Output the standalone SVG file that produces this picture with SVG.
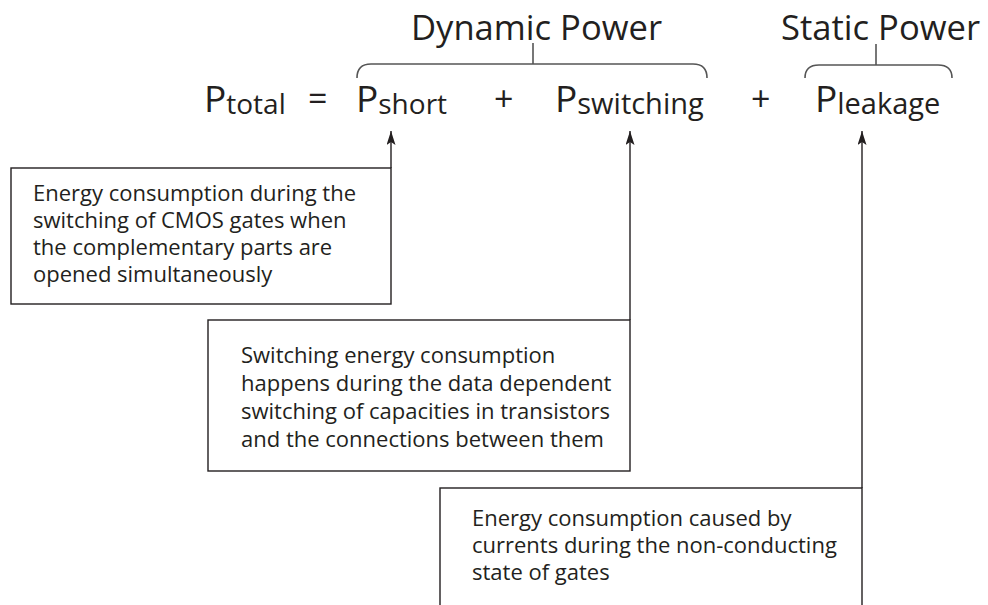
<svg xmlns="http://www.w3.org/2000/svg" width="988" height="605" viewBox="0 0 988 605">
  <style>
    text { font-family: "Open Sans", "Noto Sans", "DejaVu Sans", sans-serif; fill: #231f20; }
    .head { font-size: 34.6px; }
    .sym { font-size: 37px; }
    .sub { font-size: 28px; }
    .sub-wide { font-size: 29px; }
    .op { font-size: 34px; }
    .desc { font-size: 22px; }
    .box { fill: #ffffff; stroke: #231f20; stroke-width: 1.4; }
    .brace { fill: none; stroke: #555555; stroke-width: 1.6; }
    .link { fill: none; stroke: #231f20; stroke-width: 1.4; }
  </style>
  <defs>
    <marker id="arrow" markerUnits="userSpaceOnUse" markerWidth="16" markerHeight="10" refX="14" refY="4.5" orient="auto">
      <path d="M0,0 L14,4.5 L0,9 L3,4.5 z" fill="#231f20"/>
    </marker>
  </defs>

  <rect width="988" height="605" fill="#ffffff"/>

  <!-- group labels with their braces -->
  <g id="dynamic-power">
    <text class="head" x="411" y="40">Dynamic Power</text>
    <path class="brace" d="M357,78 Q357,64 371,64 L693,64 Q707,64 707,78"/>
    <path class="brace" d="M533,43 L533,64"/>
  </g>
  <g id="static-power">
    <text class="head" x="781" y="40">Static Power</text>
    <path class="brace" d="M805,78 Q805,65 819,65 L938,65 Q952,65 952,78"/>
    <path class="brace" d="M876,44 L876,65"/>
  </g>

  <!-- the power equation -->
  <g id="p-total">
    <text x="204" y="112"><tspan class="sym">P</tspan><tspan class="sub" dy="2">total</tspan></text>
  </g>
  <g id="equals">
    <text class="op" x="308" y="111">=</text>
  </g>
  <g id="p-short">
    <text x="356" y="112"><tspan class="sym">P</tspan><tspan class="sub" dy="2">short</tspan></text>
  </g>
  <g id="plus-1">
    <text class="op" x="494" y="111">+</text>
  </g>
  <g id="p-switching">
    <text x="555" y="112"><tspan class="sym">P</tspan><tspan class="sub-wide" dy="2">switching</tspan></text>
  </g>
  <g id="plus-2">
    <text class="op" x="751" y="111">+</text>
  </g>
  <g id="p-leakage">
    <text x="815" y="112"><tspan class="sym">P</tspan><tspan class="sub-wide" dy="2">leakage</tspan></text>
  </g>

  <!-- description boxes -->
  <g id="short-desc">
    <rect class="box" x="11" y="168" width="380" height="136"/>
    <text class="desc" x="33" y="201">Energy consumption during the</text>
    <text class="desc" x="33" y="228">switching of CMOS gates when</text>
    <text class="desc" x="33" y="255">the complementary parts are</text>
    <text class="desc" x="33" y="282">opened simultaneously</text>
  </g>
  <g id="switching-desc">
    <rect class="box" x="208" y="320" width="422" height="151"/>
    <text class="desc" x="241" y="363">Switching energy consumption</text>
    <text class="desc" x="241" y="391">happens during the data dependent</text>
    <text class="desc" x="241" y="419">switching of capacities in transistors</text>
    <text class="desc" x="241" y="447">and the connections between them</text>
  </g>
  <g id="leakage-desc">
    <rect class="box" x="440" y="488" width="422" height="140"/>
    <text class="desc" x="472" y="526">Energy consumption caused by</text>
    <text class="desc" x="472" y="553">currents during the non-conducting</text>
    <text class="desc" x="472" y="580">state of gates</text>
  </g>

  <!-- connectors from each box up to its term -->
  <g id="connectors">
    <path class="link" d="M391,168 L391,131" marker-end="url(#arrow)"/>
    <path class="link" d="M630,320 L630,131" marker-end="url(#arrow)"/>
    <path class="link" d="M862,488 L862,131" marker-end="url(#arrow)"/>
  </g>
</svg>
